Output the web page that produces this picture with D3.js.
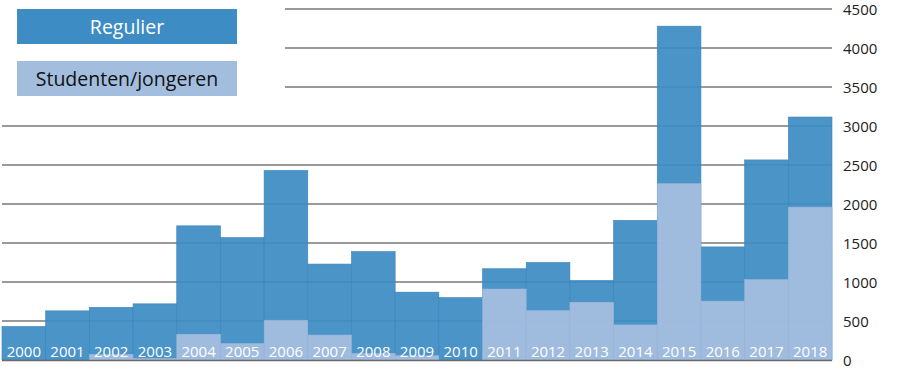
<!DOCTYPE html>
<html>
<head>
<meta charset="utf-8">
<script src="https://cdn.jsdelivr.net/npm/d3@7"></script>
<style>
  html, body { margin: 0; padding: 0; background: #fff; }
  svg text { font-family: "Open Sans", "Noto Sans", sans-serif; }
</style>
</head>
<body>
<div id="chart"></div>
<script>
// data
var years = ["2000","2001","2002","2003","2004","2005","2006","2007","2008","2009",
             "2010","2011","2012","2013","2014","2015","2016","2017","2018"];
var regulier = [430, 630, 675, 720, 1720, 1570, 2430, 1230, 1390, 870,
                800, 1170, 1250, 1020, 1790, 4280, 1450, 2565, 3115];
var studenten = [0, 0, 73, 20, 330, 210, 510, 320, 86, 55,
                 0, 910, 632, 740, 450, 2260, 755, 1030, 1960];
var yTicks = [0, 500, 1000, 1500, 2000, 2500, 3000, 3500, 4000, 4500];
var legendItems = ["Regulier", "Studenten/jongeren"];

var width = 900, height = 369;
var darkBlue = "#3d8cc4", lightBlue = "#a3bddf";

var svg = d3.select("#chart").append("svg")
  .attr("width", width)
  .attr("height", height);

var x = d3.scaleBand()
  .domain(years)
  .range([2, 832])
  .padding(0);

var y = d3.scaleLinear()
  .domain([0, 4500])
  .range([360, 9]);

// gridlines (the top ones stop short of the legend)
svg.append("g").selectAll("line")
  .data(yTicks.filter(function(d) { return d > 0; }))
  .enter().append("line")
  .attr("x1", function(d) { return y(d) < 100 ? 285 : 2; })
  .attr("x2", 832)
  .attr("y1", function(d) { return y(d); })
  .attr("y2", function(d) { return y(d); })
  .attr("stroke", "#9a9a9a")
  .attr("stroke-width", 2);

// regulier bars
svg.append("g").selectAll("rect")
  .data(years)
  .enter().append("rect")
  .attr("x", function(d) { return x(d); })
  .attr("width", x.bandwidth())
  .attr("y", function(d, i) { return y(regulier[i]); })
  .attr("height", function(d, i) { return y(0) - y(regulier[i]); })
  .attr("fill", darkBlue)
  .attr("fill-opacity", 0.93)
  .attr("stroke", "#3a84b8")
  .attr("stroke-width", 0.6);

// studenten bars on top
svg.append("g").selectAll("rect")
  .data(years)
  .enter().append("rect")
  .attr("x", function(d) { return x(d); })
  .attr("width", x.bandwidth())
  .attr("y", function(d, i) { return y(studenten[i]); })
  .attr("height", function(d, i) { return y(0) - y(studenten[i]); })
  .attr("fill", lightBlue)
  .attr("fill-opacity", 0.95)
  .attr("stroke", "#9bb6d9")
  .attr("stroke-width", 0.6);

// baseline
svg.append("line")
  .attr("x1", 2).attr("x2", 832)
  .attr("y1", y(0) + 0.5).attr("y2", y(0) + 0.5)
  .attr("stroke", "#6b6b6b")
  .attr("stroke-width", 1.5);

// year labels inside the bars
svg.append("g").selectAll("text")
  .data(years)
  .enter().append("text")
  .attr("x", function(d) { return x(d) + x.bandwidth() / 2; })
  .attr("y", 357)
  .attr("text-anchor", "middle")
  .attr("fill", "#fff")
  .style("font-size", "15px")
  .text(function(d) { return d; });

// y axis on the right
var yAxis = svg.append("g")
  .attr("transform", "translate(838,1)")
  .call(d3.axisRight(y).tickValues(yTicks).tickFormat(d3.format("d")).tickSize(0).tickPadding(5));
yAxis.select(".domain").remove();
yAxis.selectAll("text")
  .style("font-size", "15px")
  .style("font-family", "\"Open Sans\", \"Noto Sans\", sans-serif")
  .attr("fill", "#222");

// legend
var legend = svg.append("g").selectAll("g")
  .data(legendItems)
  .enter().append("g")
  .attr("transform", function(d, i) { return "translate(17," + (9 + i * 52) + ")"; });

legend.append("rect")
  .attr("width", 220)
  .attr("height", 35)
  .attr("fill", function(d, i) { return i === 0 ? darkBlue : lightBlue; });

legend.append("text")
  .attr("x", 110)
  .attr("y", 24.5)
  .attr("text-anchor", "middle")
  .attr("fill", function(d, i) { return i === 0 ? "#fff" : "#111"; })
  .style("font-size", "19.5px")
  .text(function(d) { return d; });
</script>
</body>
</html>
